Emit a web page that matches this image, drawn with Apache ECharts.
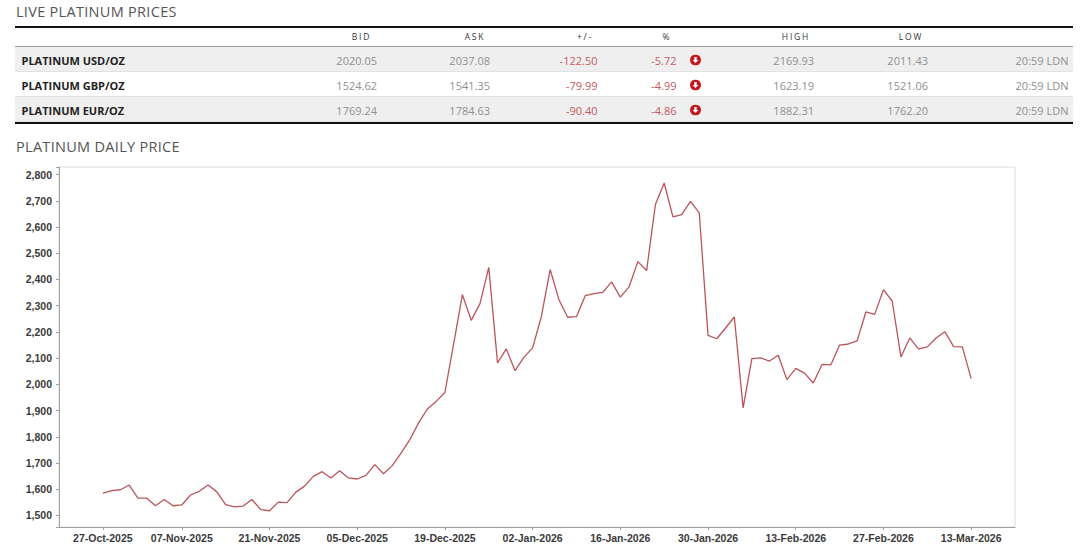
<!DOCTYPE html>
<html>
<head>
<meta charset="utf-8">
<script src="https://cdn.jsdelivr.net/npm/echarts@6/dist/echarts.min.js"></script>
<style>
html,body{margin:0;padding:0;background:#fff;width:1080px;height:551px;overflow:hidden;font-family:'Open Sans',sans-serif;}
#chart{position:absolute;left:0;top:0;width:1080px;height:551px;}
#tbl{position:absolute;left:0;top:0;width:1080px;height:130px;}
.title{position:absolute;left:16px;font-size:14.5px;color:#555;letter-spacing:0.3px;line-height:1;white-space:nowrap;transform:translateY(-50%);}
.rule{position:absolute;left:15px;width:1058px;}
.rowbg{position:absolute;left:15px;width:1058px;}
.cell{position:absolute;white-space:nowrap;line-height:1;font-size:11px;}
.hdr{font-size:8.5px;letter-spacing:1.8px;color:#333;}
.name{font-weight:bold;color:#222;}
.num{color:#8f8f8f;}
.neg{color:#c65a5f;}
</style>
</head>
<body>
<div id="chart"></div>
<div id="tbl"></div>
<script>
// ---- table data ----
const tableTitle = 'LIVE PLATINUM PRICES';
const chartTitle = 'PLATINUM DAILY PRICE';
const headers = ['BID', 'ASK', '+/-', '%', 'HIGH', 'LOW'];
const rowNames = ['PLATINUM USD/OZ', 'PLATINUM GBP/OZ', 'PLATINUM EUR/OZ'];
const bids = ['2020.05', '1524.62', '1769.24'];
const asks = ['2037.08', '1541.35', '1784.63'];
const changes = ['-122.50', '-79.99', '-90.40'];
const percents = ['-5.72', '-4.99', '-4.86'];
const highs = ['2169.93', '1623.19', '1882.31'];
const lows = ['2011.43', '1521.06', '1762.20'];
const times = ['20:59 LDN', '20:59 LDN', '20:59 LDN'];

// ---- chart data ----
const tickLabels = ['27-Oct-2025','07-Nov-2025','21-Nov-2025','05-Dec-2025','19-Dec-2025','02-Jan-2026','16-Jan-2026','30-Jan-2026','13-Feb-2026','27-Feb-2026','13-Mar-2026'];
const prices = [
  1585,1595,1598,1616,1566,1566,1537,1561,1537,1540,
  1578,1592,1616,1590,1541,1533,1536,1561,1522,1518,
  1551,1549,1589,1612,1649,1667,1643,1671,1643,1639,
  1653,1694,1659,1690,1738,1789,1853,1906,1935,1969,
  2155,2342,2244,2308,2446,2082,2135,2052,2103,2139,
  2259,2438,2323,2256,2258,2338,2346,2351,2391,2333,
  2372,2468,2434,2686,2768,2639,2647,2698,2654,2187,
  2174,2215,2257,1910,2098,2101,2089,2111,2018,2061,
  2043,2005,2076,2074,2150,2154,2166,2276,2267,2361,
  2317,2104,2177,2135,2143,2177,2201,2144,2143,2022
];
const startDate = '2025-10-27';

// ---- build table ----
const tbl = document.getElementById('tbl');
function add(html, cls, style) {
  const d = document.createElement('div');
  d.className = cls;
  d.setAttribute('style', style);
  d.innerHTML = html;
  tbl.appendChild(d);
  return d;
}
add(tableTitle, 'title', 'top:11.5px;');
add(chartTitle, 'title', 'top:147px;');
add('', 'rule', 'top:26px;height:2px;background:#111;');
add('', 'rule', 'top:46px;height:1px;background:#9a9a9a;');
const rowTops = [47, 72, 97];
const rowBg = ['#efefef', '#ffffff', '#efefef'];
rowTops.forEach((t, i) => {
  add('', 'rowbg', 'top:' + t + 'px;height:25px;background:' + rowBg[i] + ';border-bottom:1px solid #e2e2e2;box-sizing:border-box;');
});
add('', 'rule', 'top:122px;height:2px;background:#111;');

const hdrCenters = [361.5, 475, 585, 667, 796, 911];
headers.forEach((h, i) => {
  add(h, 'cell hdr', 'left:' + hdrCenters[i] + 'px;top:37px;transform:translate(-50%,-50%);');
});
const icon = '<svg width="11" height="11" viewBox="0 0 11 11"><circle cx="5.5" cy="5.5" r="5.5" fill="#c4161c"/><path d="M5.5 8.6 L2.6 5.6 L4.3 5.6 L4.3 2.6 L6.7 2.6 L6.7 5.6 L8.4 5.6 Z" fill="#fff"/></svg>';
const rowCenters = [60, 84.5, 110];
function cellR(txt, cls, right, y) {
  add(txt, 'cell ' + cls, 'right:' + (1080 - right) + 'px;top:' + y + 'px;transform:translateY(-50%);');
}
rowNames.forEach((n, i) => {
  const y = rowCenters[i];
  add(n, 'cell name', 'left:21.5px;top:' + y + 'px;transform:translateY(-50%);');
  cellR(bids[i], 'num', 377, y);
  cellR(asks[i], 'num', 490, y);
  cellR(changes[i], 'neg', 597.5, y);
  cellR(percents[i], 'neg', 676.5, y);
  add(icon, 'cell', 'left:689.5px;top:' + y + 'px;transform:translateY(-50%);height:11px;');
  cellR(highs[i], 'num', 814, y);
  cellR(lows[i], 'num', 928, y);
  cellR(times[i], 'num', 1068.5, y);
});

// ---- chart ----
const monthNames = ['Jan','Feb','Mar','Apr','May','Jun','Jul','Aug','Sep','Oct','Nov','Dec'];
const days = [];
let d = new Date(startDate + 'T00:00:00Z');
while (days.length < prices.length) {
  const wd = d.getUTCDay();
  if (wd !== 0 && wd !== 6) {
    const dd = String(d.getUTCDate()).padStart(2, '0');
    days.push(dd + '-' + monthNames[d.getUTCMonth()] + '-' + d.getUTCFullYear());
  }
  d = new Date(d.getTime() + 86400000);
}
const padL = ['p0','p1','p2','p3','p4'];
const padR = ['q0','q1','q2','q3','q4'];
const categories = padL.concat(days, padR);
const seriesData = padL.map(() => null).concat(prices, padR.map(() => null));
const tickSet = new Set(tickLabels);

const chart = echarts.init(document.getElementById('chart'), null, {renderer: 'svg'});
chart.setOption({
  animation: false,
  grid: {left: 59, right: 65, top: 167, bottom: 24, show: true, borderColor: '#dcdcdc', borderWidth: 1, backgroundColor: 'transparent'},
  xAxis: {
    type: 'category',
    data: categories,
    boundaryGap: false,
    axisLine: {lineStyle: {color: '#a0a0a0', width: 1}},
    axisTick: {show: true, length: 3, lineStyle: {color: '#a0a0a0'}, interval: (i, v) => tickSet.has(v)},
    axisLabel: {
      interval: (i, v) => tickSet.has(v),
      color: '#3a3a3a', fontSize: 10.5, fontWeight: 'bold', fontFamily: 'Liberation Sans, Arial, sans-serif', margin: 5
    },
    splitLine: {show: false}
  },
  yAxis: {
    type: 'value',
    min: 1456,
    max: 2829,
    splitNumber: 14,
    minInterval: 100,
    maxInterval: 100,
    axisLine: {show: true, lineStyle: {color: '#a0a0a0', width: 1}},
    axisTick: {show: true, length: 3, lineStyle: {color: '#a0a0a0'}},
    axisLabel: {
      color: '#3a3a3a', fontSize: 10.5, fontWeight: 'bold', fontFamily: 'Liberation Sans, Arial, sans-serif', margin: 7,
      formatter: v => (v % 100 === 0 ? v.toLocaleString('en-US') : '')
    },
    splitLine: {show: false}
  },
  series: [{
    type: 'line',
    data: seriesData,
    showSymbol: false,
    symbol: 'none',
    lineStyle: {color: '#b9555a', width: 1.3},
    silent: true
  }]
});
</script>
</body>
</html>
